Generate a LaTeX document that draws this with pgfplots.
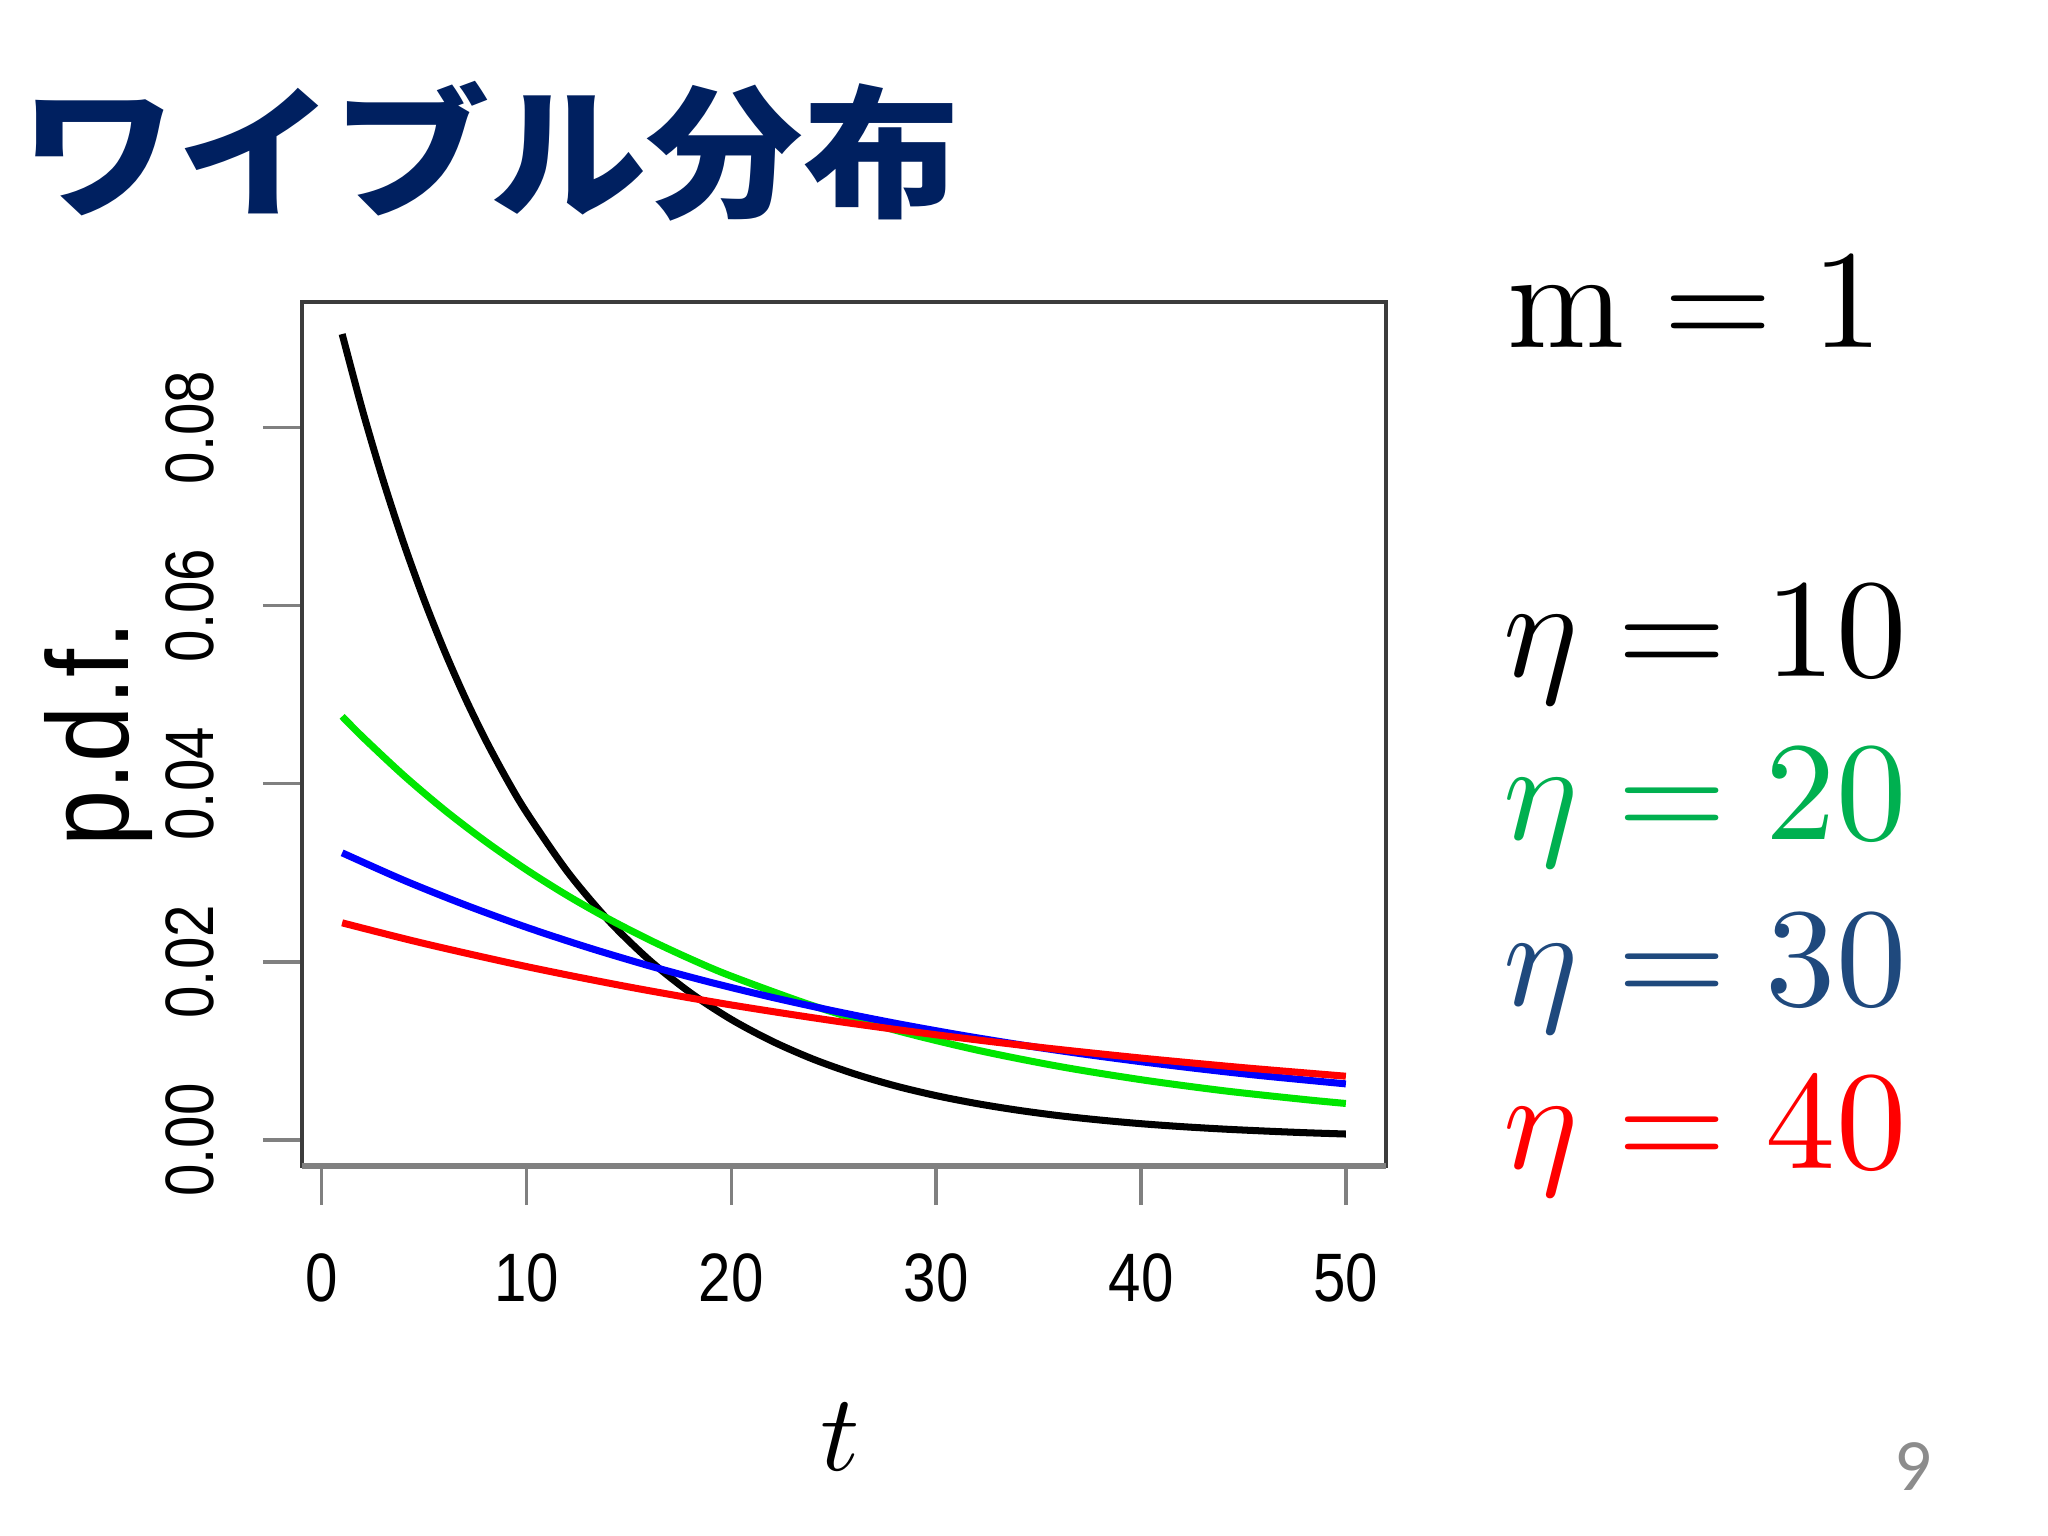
\documentclass[border=0pt]{standalone}
\usepackage{graphicx}
\usepackage{fontspec}
\usepackage{pgfplots}
\pgfplotsset{compat=1.18}
\newfontfamily\rfont{Liberation Sans}[FakeStretch=0.85]
\newfontfamily\lfont{Liberation Sans}[FakeStretch=0.87]
\newfontfamily\cjk{Noto Sans CJK JP}
\newfontfamily\pfont{Carlito}
\definecolor{titleblue}{HTML}{002060}
\definecolor{txtgreen}{HTML}{00B050}
\definecolor{txtblue}{HTML}{1F497D}
\definecolor{rgreen}{RGB}{0,230,0}
\definecolor{axgray}{HTML}{3C3C3C}
\definecolor{tickgray}{HTML}{808080}
\begin{document}
\begin{tikzpicture}
\fill[white] (0,0) rectangle (20.48,-15.36);
\path[use as bounding box] (0,0) rectangle (20.48,-15.36);
% title
\node[anchor=base west, inner sep=0pt, text=titleblue] at (0.20,-2.07)
  {\scalebox{1.06}[0.97]{\cjk\bfseries\fontsize{42}{46}\selectfont ワイブル分布}};
\begin{axis}[
  at={(3.02cm,-11.66cm)}, anchor=south west,
  scale only axis, width=10.84cm, height=8.64cm,
  xmin=-0.96, xmax=51.96, ymin=-0.00292, ymax=0.09408,
  xtick={0,10,20,30,40,50},
  xticklabels={0,10,20,30,40,50},
  ytick={0,0.02,0.04,0.06,0.08},
  yticklabels={0.00,0.02,0.04,0.06,0.08},
  scaled y ticks=false,
  tick align=outside,
  xtick pos=bottom, ytick pos=left,
  major tick length=0.39cm,
  tick style={draw=tickgray, line width=1pt},
  axis line style={draw=axgray, line width=1.2pt},
  xticklabel style={font=\rfont\fontsize{19.5}{20}\selectfont, anchor=north, inner sep=0pt},
  yticklabel style={font=\rfont\fontsize{19.5}{20}\selectfont, rotate=90, anchor=south, inner sep=0pt},
  xticklabel shift=0.48cm,
  yticklabel shift=0.48cm,
  clip=false,
]
\draw[tickgray, line width=1.8pt] (rel axis cs:0,0) -- (rel axis cs:1,0);
\addplot[black, line width=2pt, smooth] coordinates {
(1,0.09048)(2,0.08187)(3,0.07408)(4,0.06703)(5,0.06065)(6,0.05488)(7,0.04966)(8,0.04493)(9,0.04066)(10,0.03679)(12,0.03012)(14,0.02466)(16,0.02019)(18,0.01653)(20,0.01353)(22,0.01108)(24,0.00907)(26,0.00743)(28,0.00608)(30,0.00498)(32,0.00408)(34,0.00334)(36,0.00273)(38,0.00224)(40,0.00183)(42,0.00150)(44,0.00123)(46,0.00101)(48,0.00082)(50,0.00067)
};
\addplot[rgreen, line width=2pt, smooth] coordinates {
(1,0.04756)(2,0.04524)(4,0.04094)(6,0.03704)(8,0.03352)(10,0.03033)(12,0.02744)(14,0.02483)(16,0.02247)(18,0.02033)(20,0.01839)(24,0.01506)(28,0.01233)(32,0.01009)(36,0.00826)(40,0.00677)(44,0.00554)(48,0.00454)(50,0.00410)
};
\addplot[blue, line width=2pt, smooth] coordinates {
(1,0.03224)(4,0.02917)(7,0.02640)(10,0.02388)(13,0.02161)(16,0.01955)(19,0.01769)(22,0.01601)(25,0.01449)(28,0.01311)(31,0.01186)(34,0.01073)(37,0.00971)(40,0.00879)(43,0.00795)(46,0.00719)(50,0.00630)
};
\addplot[red, line width=2pt, smooth] coordinates {
(1,0.02438)(5,0.02206)(10,0.01947)(15,0.01718)(20,0.01516)(25,0.01338)(30,0.01181)(35,0.01042)(40,0.00920)(45,0.00812)(50,0.00716)
};
\end{axis}
% axis labels
\node[rotate=90, anchor=base, inner sep=0pt] at (1.29,-7.34)
  {\lfont\fontsize{33}{36}\selectfont p.d.f.};
\node[anchor=base, inner sep=0pt] at (8.40,-14.70)
  {\scalebox{3.1}{$t$}};
% parameter text
\node[anchor=base west, inner sep=0pt] at (15.07,-3.48)
  {\scalebox{4}{$\mathrm{m} = 1$}};
\node[anchor=base west, inner sep=0pt] at (15.03,-6.77)
  {\scalebox{4}{$\eta = 10$}};
\node[anchor=base west, inner sep=0pt, text=txtgreen] at (15.03,-8.40)
  {\scalebox{4}{$\eta = 20$}};
\node[anchor=base west, inner sep=0pt, text=txtblue] at (15.03,-10.05)
  {\scalebox{4}{$\eta = 30$}};
\node[anchor=base west, inner sep=0pt, text=red] at (15.03,-11.68)
  {\scalebox{4}{$\eta = 40$}};
% page number
\node[anchor=base, inner sep=0pt, text=black!45] at (19.13,-14.90)
  {\pfont\fontsize{21}{24}\selectfont 9};
\end{tikzpicture}
\end{document}
